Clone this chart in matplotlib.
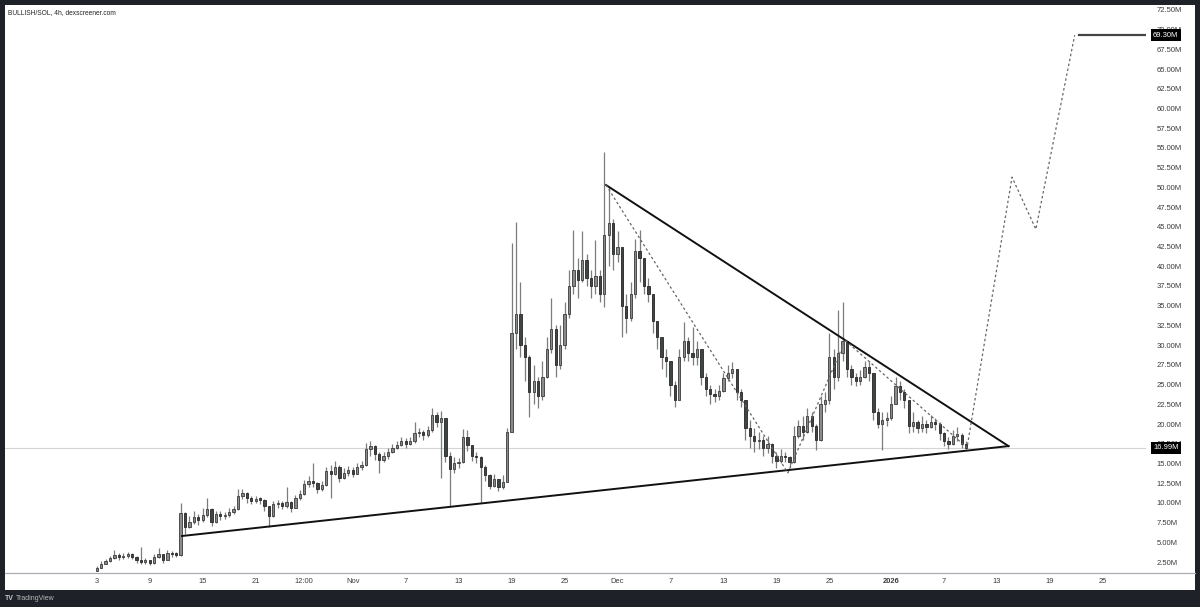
import matplotlib
matplotlib.use("Agg")
import matplotlib.pyplot as plt
from matplotlib.patches import Rectangle
from matplotlib import transforms

# 12h candles from Oct 3 (day 0), values in millions
closes = [1.8, 2.3, 2.6, 3.0, 3.4, 3.1, 3.3, 3.5, 3.2, 2.7, 2.5, 2.7, 2.4, 3.2, 3.5, 2.8, 3.6, 3.5, 3.4, 8.7,
          7.0, 7.6, 8.2, 7.8, 8.5, 9.2, 7.6, 8.6, 8.3, 8.5, 8.8, 9.2, 10.9, 11.3, 10.6, 10.2, 10.5, 10.4, 9.6, 8.3,
          9.8, 10.0, 9.6, 10.1, 9.4, 10.6, 11.1, 12.4, 12.8, 12.5, 11.8, 12.3, 14.0, 13.7, 14.6, 13.2, 13.8, 14.2, 13.7, 14.5,
          14.8, 16.8, 17.2, 16.2, 15.4, 15.9, 16.4, 17.0, 17.4, 17.8, 17.5, 17.9, 18.8, 19.0, 18.6, 19.2, 21.2, 20.3, 20.8, 16.0,
          14.3, 15.0, 15.2, 18.4, 17.4, 16.0, 15.8, 14.6, 13.5, 12.2, 13.0, 12.0, 12.6, 19.0, 31.5, 34.0, 30.0, 28.5, 24.0, 25.5,
          23.5, 26.0, 29.5, 32.0, 27.5, 30.0, 34.0, 37.5, 39.5, 38.2, 40.8, 38.5, 37.5, 38.8, 36.5, 44.0, 45.5, 41.5, 42.5, 35.0,
          33.5, 36.5, 42.0, 41.0, 37.5, 36.5, 33.0, 31.0, 28.5, 28.0, 25.0, 23.0, 28.5, 30.5, 29.0, 28.5, 29.5, 26.0, 24.5, 23.8,
          23.5, 24.2, 25.8, 26.5, 27.0, 24.0, 23.0, 19.5, 18.5, 17.8, 18.0, 17.0, 17.5, 16.0, 15.3, 16.0, 15.8, 15.2, 18.5, 19.8,
          19.0, 21.0, 19.8, 18.0, 22.5, 23.0, 28.5, 26.0, 29.0, 30.5, 27.0, 26.0, 25.5, 26.0, 27.2, 26.5, 21.5, 20.0, 20.5, 20.8,
          22.5, 24.8, 24.0, 23.0, 19.8, 20.2, 19.5, 20.0, 19.6, 20.3, 20.0, 18.8, 17.8, 17.5, 18.5, 18.6, 17.5, 16.99]
highs = [2.0, 2.6, 2.9, 3.3, 4.0, 3.6, 3.7, 3.8, 3.6, 3.3, 4.4, 3.0, 2.8, 3.5, 4.3, 3.4, 4.0, 3.9, 3.8, 10.0,
         8.8, 8.3, 9.0, 8.6, 9.3, 10.6, 9.3, 9.0, 9.0, 8.9, 9.4, 9.6, 11.8, 11.7, 11.4, 10.9, 10.9, 10.8, 10.5, 9.6,
         10.3, 10.4, 10.2, 12.0, 10.2, 11.0, 11.6, 12.9, 13.4, 15.0, 12.7, 12.8, 14.6, 14.8, 15.3, 14.8, 14.4, 14.7, 14.5, 15.0,
         15.3, 17.6, 17.8, 17.4, 16.4, 16.5, 16.9, 17.5, 17.8, 18.3, 18.2, 18.4, 20.2, 19.5, 19.3, 19.8, 22.0, 21.5, 21.7, 20.5,
         16.5, 15.8, 15.7, 19.4, 19.3, 17.4, 16.4, 16.0, 14.8, 13.6, 13.7, 13.0, 13.5, 19.5, 43.0, 45.6, 38.0, 31.0, 28.8, 27.5,
         26.0, 28.0, 31.0, 36.0, 32.5, 32.5, 35.5, 39.5, 44.6, 41.0, 44.5, 41.5, 39.5, 43.3, 39.5, 54.5, 50.0, 46.0, 44.5, 42.5,
         36.5, 38.0, 43.5, 44.6, 41.0, 38.5, 36.5, 33.0, 31.0, 29.5, 28.0, 25.5, 29.5, 32.9, 31.0, 32.3, 30.5, 29.5, 26.5, 25.0,
         24.5, 25.0, 26.5, 27.5, 27.9, 27.0, 24.5, 23.0, 20.5, 19.5, 19.0, 18.5, 18.5, 17.6, 16.5, 16.8, 16.5, 16.0, 19.8, 20.5,
         21.0, 22.0, 21.5, 20.0, 23.5, 24.0, 31.5, 29.5, 34.5, 35.5, 30.5, 27.5, 26.5, 26.8, 28.0, 28.0, 26.5, 22.0, 21.5, 21.5,
         23.5, 25.9, 25.5, 24.5, 23.0, 21.5, 20.5, 21.0, 20.5, 21.2, 20.8, 20.2, 19.0, 18.3, 19.2, 19.6, 18.8, 17.8]
lows = [1.3, 1.8, 2.2, 2.5, 2.9, 2.8, 2.9, 3.0, 2.9, 2.4, 2.2, 2.3, 2.1, 2.3, 3.0, 2.4, 3.1, 3.2, 3.1, 3.3,
        6.0, 6.8, 7.3, 7.2, 7.6, 8.2, 7.1, 7.4, 7.8, 7.9, 8.2, 8.6, 9.1, 10.5, 10.0, 9.8, 10.0, 9.9, 9.0, 7.0,
        8.2, 9.4, 9.2, 9.4, 8.8, 9.3, 10.4, 11.0, 12.0, 12.0, 11.2, 11.5, 12.2, 10.6, 13.5, 12.6, 13.0, 13.4, 13.3, 13.6,
        14.2, 14.7, 16.0, 15.4, 13.8, 15.2, 15.6, 16.3, 16.8, 17.2, 17.0, 17.3, 17.6, 18.3, 18.0, 18.4, 19.0, 19.6, 13.2, 15.2,
        9.5, 13.8, 14.4, 15.0, 16.6, 15.3, 15.0, 10.0, 12.8, 11.8, 12.0, 11.5, 11.8, 12.6, 19.0, 29.5, 28.5, 25.5, 20.9, 22.5,
        22.0, 23.0, 25.8, 29.0, 26.0, 27.0, 29.5, 33.5, 36.5, 36.0, 38.0, 37.5, 36.0, 36.5, 35.5, 34.8, 40.0, 39.5, 40.5, 31.0,
        31.5, 33.0, 36.0, 38.0, 36.5, 35.5, 31.5, 29.5, 27.0, 26.0, 23.5, 22.2, 23.0, 28.0, 28.0, 27.5, 27.5, 25.0, 23.5, 22.5,
        22.8, 23.0, 24.0, 25.5, 25.8, 23.0, 22.2, 18.0, 17.0, 16.5, 16.8, 16.0, 16.3, 15.0, 14.4, 15.0, 15.2, 14.5, 15.0, 18.2,
        18.0, 18.8, 19.0, 16.7, 17.8, 21.5, 22.5, 24.5, 25.5, 28.0, 26.0, 25.0, 24.8, 25.0, 25.8, 25.5, 20.5, 19.5, 16.7, 19.8,
        20.5, 22.5, 23.0, 22.0, 18.8, 19.0, 18.8, 19.0, 18.9, 19.5, 19.2, 18.0, 17.2, 16.8, 17.3, 17.8, 17.0, 16.8]
first_open = 1.4

# drawn lines (day, value)
support_days = [9.65, 103.3]
support_vals = [5.8, 17.2]
resist_days = [57.7, 103.3]
resist_vals = [50.3, 17.2]
path_days = [57.7, 78.3, 84.8, 98.6, 103.7, 106.4, 110.8]
path_vals = [50.3, 13.8, 30.6, 17.0, 51.3, 44.7, 69.3]
target = 69.30
last_price = 16.99

tick_days = [0, 6, 12, 18, 23.5, 29, 35, 41, 47, 53, 59, 65, 71, 77, 83, 90, 96, 102, 108, 114]
tick_labels = ["3", "9", "15", "21", "12:00", "Nov", "7", "13", "19", "25",
               "Dec", "7", "13", "19", "25", "2026", "7", "13", "19", "25"]
price_ticks = [2.5 * k for k in range(1, 30)]


def main():
    plt.rcParams["font.family"] = ["Liberation Sans", "DejaVu Sans"]
    W, H = 1200, 607
    fig = plt.figure(figsize=(12, 6.07), dpi=100)
    fig.patch.set_facecolor("#1e2128")
    fig.add_artist(Rectangle((5 / W, 1 - 590 / H), 1190 / W, 585 / H,
                             transform=fig.transFigure, facecolor="white", edgecolor="none", zorder=0))
    ax = fig.add_axes([5 / W, 1 - 573.3 / H, 1141 / W, 568.3 / H])
    ax.set_facecolor("white")
    for s in ax.spines.values():
        s.set_visible(False)
    ax.set_xlim(-10.40, 118.88)
    ax.set_ylim(1.07, 73.13)

    # candles
    opens = [first_open] + closes[:-1]
    xs = [i * 0.5 for i in range(len(closes))]
    ax.vlines(xs, lows, highs, color="#7c7c7c", linewidth=0.9, zorder=2)
    up = [i for i in range(len(xs)) if closes[i] >= opens[i]]
    dn = [i for i in range(len(xs)) if closes[i] < opens[i]]
    for idx, fc, ec in [(up, "#8a8a8a", "#3a3a3a"), (dn, "#3e4642", "#262626")]:
        ax.bar([xs[i] for i in idx],
               [max(abs(closes[i] - opens[i]), 0.2) for i in idx],
               bottom=[min(closes[i], opens[i]) for i in idx],
               width=0.26, color=fc, edgecolor=ec, linewidth=0.6, zorder=3)

    ax.axhline(last_price, color="#d4d4d4", linewidth=0.8, zorder=1)
    ax.plot(support_days, support_vals, color="#111111", linewidth=1.4, zorder=4)
    ax.plot(resist_days, resist_vals, color="#111111", linewidth=1.4, zorder=4)
    ax.plot(path_days, path_vals, color="#666666", linewidth=0.9, dashes=(2, 2), zorder=4)
    ax.plot([111.3, 118.88], [target, target], color="#444444", linewidth=1.6, zorder=4)

    ax.set_xticks(tick_days)
    ax.set_xticklabels(tick_labels)
    ax.tick_params(axis="x", length=0, pad=3.4, labelsize=5.4, labelcolor="#3a3a3a")
    for lab in ax.get_xticklabels():
        if lab.get_text() == "2026":
            lab.set_fontweight("bold")
    ax.yaxis.tick_right()
    ax.set_yticks(price_ticks)
    ax.set_yticklabels([f"{v:.2f}M" for v in price_ticks])
    ax.tick_params(axis="y", length=0, pad=7.5, labelsize=5.5, labelcolor="#3a3a3a")

    tr = transforms.blended_transform_factory(ax.transAxes, ax.transData)
    for v in [target, last_price]:
        ax.text((1153 - 5) / 1141, v, f"{v:.2f}M", transform=tr, ha="left", va="center",
                fontsize=5.5, color="white", zorder=10, clip_on=False,
                bbox=dict(boxstyle="square,pad=0.3", facecolor="#000000", edgecolor="none"))

    fig.add_artist(plt.Line2D([5 / W, 1195 / W], [1 - 573.3 / H] * 2, transform=fig.transFigure,
                              color="#a9acb4", linewidth=0.9))
    fig.text(8 / W, 1 - 13 / H, "BULLISH/SOL, 4h, dexscreener.com", fontsize=4.8,
             color="#222222", va="center", ha="left")
    fig.text(5 / W, 1 - 598.5 / H, "TV", fontsize=5, fontweight="bold", color="#c8c8c8",
             va="center", ha="left")
    fig.text(16 / W, 1 - 598.5 / H, "TradingView", fontsize=5, color="#b8b8b8",
             va="center", ha="left")

    fig.savefig("out.png", dpi=100, facecolor=fig.get_facecolor())


if __name__ == "__main__":
    main()
